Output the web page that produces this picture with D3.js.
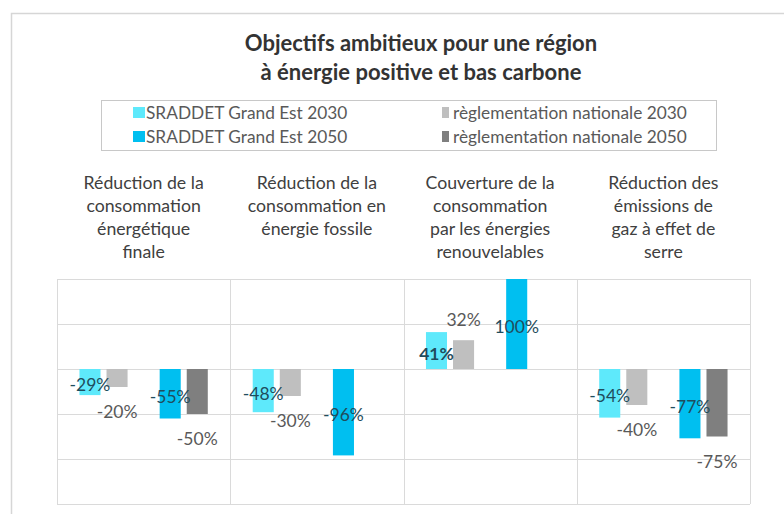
<!DOCTYPE html>
<html>
<head>
<meta charset="utf-8">
<script src="https://cdn.jsdelivr.net/npm/d3@7"></script>
<style>
  html, body { margin: 0; padding: 0; background: #ffffff; }
  svg { display: block; }
  text { font-family: Lato, 'Liberation Sans', sans-serif; }
</style>
</head>
<body>
<svg id="chart" width="784" height="514"></svg>
<script>
// ---------- data ----------
const titleLines = ["Objectifs ambitieux pour une région", "à énergie positive et bas carbone"];
const categories = ["conso_finale", "conso_fossile", "enr", "ges"];
const headerLines = [
  ["Réduction de la", "consommation", "énergétique", "finale"],
  ["Réduction de la", "consommation en", "énergie fossile"],
  ["Couverture de la", "consommation", "par les énergies", "renouvelables"],
  ["Réduction des", "émissions de", "gaz à effet de", "serre"]
];
const years = ["2030", "2050"];
const seriesKeys = ["sraddet", "national"];
const sraddet2030 = [-29, -48, 41, -54];
const national2030 = [-20, -30, 32, -40];
const sraddet2050 = [-55, -96, 100, -77];
const national2050 = [-50, null, null, -75];
const legendLabels = ["SRADDET Grand Est 2030", "SRADDET Grand Est 2050",
                      "règlementation nationale 2030", "règlementation nationale 2050"];
const gridTicks = [-150, -100, -50, 0, 50, 100];

// ---------- layout / styles ----------
const colors = {
  "sraddet2030": "#5ee9fb",
  "sraddet2050": "#00bff0",
  "national2030": "#bfbfbf",
  "national2050": "#7f7f7f"
};
const plot = { left: 57, right: 750, top: 279, bottom: 504 };

const svg = d3.select("#chart");

// outer frame
svg.append("rect")
  .attr("x", 11.5).attr("y", 13.5).attr("width", 800).attr("height", 520)
  .attr("fill", "none").attr("stroke", "#d6d6d6").attr("stroke-width", 1.5);

// title
svg.append("g").selectAll("text").data(titleLines).join("text")
  .attr("x", 421).attr("y", (d, i) => 51 + i * 29)
  .attr("text-anchor", "middle")
  .attr("font-size", 22).attr("font-weight", "bold").attr("fill", "#333333")
  .text(d => d);

// legend
const legend = svg.append("g");
legend.append("rect")
  .attr("x", 101.5).attr("y", 100.5).attr("width", 615).attr("height", 50)
  .attr("fill", "none").attr("stroke", "#c8c8c8");
const legendItems = [
  { key: "sraddet2030", label: legendLabels[0], col: 0, row: 0 },
  { key: "sraddet2050", label: legendLabels[1], col: 0, row: 1 },
  { key: "national2030", label: legendLabels[2], col: 1, row: 0 },
  { key: "national2050", label: legendLabels[3], col: 1, row: 1 }
];
const legendColX = [133, 442];
const legendSwatchW = [12, 7];
const legendTextX = [146, 453];
const legendRowY = [112.5, 136.5];
const lg = legend.selectAll("g.item").data(legendItems).join("g").attr("class", "item");
lg.append("rect")
  .attr("x", d => legendColX[d.col]).attr("y", d => legendRowY[d.row] - 5.5)
  .attr("width", d => legendSwatchW[d.col]).attr("height", 11)
  .attr("fill", d => colors[d.key]);
lg.append("text")
  .attr("x", d => legendTextX[d.col])
  .attr("y", d => legendRowY[d.row] + 6)
  .attr("font-size", 17.3).attr("fill", "#595959")
  .text(d => d.label);

// scales
const x = d3.scaleBand().domain(categories).range([plot.left, plot.right]).padding(0);
const xYear = d3.scaleBand().domain(years).range([0, x.bandwidth()]).paddingInner(0).paddingOuter(0.08);
const xSeries = d3.scaleBand().domain(seriesKeys).range([0, xYear.bandwidth()]).paddingInner(0.222).paddingOuter(0.593);
const y = d3.scaleLinear().domain([-150, 100]).range([plot.bottom, plot.top]);

// headers
const headers = svg.append("g");
headers.selectAll("g").data(categories).join("g")
  .each(function (c, i) {
    d3.select(this).selectAll("text").data(headerLines[i]).join("text")
      .attr("x", x(c) + x.bandwidth() / 2)
      .attr("y", (d, j) => 189 + j * 23)
      .attr("text-anchor", "middle")
      .attr("font-size", 17.7).attr("fill", "#404040")
      .text(d => d);
  });

// gridlines
const grid = svg.append("g");
grid.selectAll("line.h").data(gridTicks).join("line").attr("class", "h")
  .attr("x1", plot.left).attr("x2", plot.right)
  .attr("y1", d => Math.round(y(d)) + 0.5).attr("y2", d => Math.round(y(d)) + 0.5)
  .attr("stroke", "#dadada").attr("stroke-width", 1);
const dividers = categories.map(c => x(c)).concat([plot.right]);
grid.selectAll("line.v").data(dividers).join("line").attr("class", "v")
  .attr("x1", d => Math.round(d) + 0.5).attr("x2", d => Math.round(d) + 0.5)
  .attr("y1", plot.top).attr("y2", plot.bottom)
  .attr("stroke", "#dadada").attr("stroke-width", 1);

// bars
const seriesData = { sraddet2030, national2030, sraddet2050, national2050 };
const bars = [];
categories.forEach((c, i) => {
  years.forEach(yr => {
    seriesKeys.forEach(s => {
      const key = s + yr;
      const v = seriesData[key][i];
      if (v === null || v === undefined) return;
      bars.push({ cat: c, year: yr, series: s, key, value: v, idx: i });
    });
  });
});
const bx = d => x(d.cat) + xYear(d.year) + xSeries(d.series);
svg.append("g").selectAll("rect").data(bars).join("rect")
  .attr("x", bx)
  .attr("y", d => Math.min(y(d.value), y(0)))
  .attr("width", xSeries.bandwidth())
  .attr("height", d => Math.abs(y(d.value) - y(0)))
  .attr("fill", d => colors[d.key]);

// data labels
const fmtPct = v => (v < 0 ? "-" : "") + Math.abs(v) + "%";
svg.append("g").selectAll("text").data(bars).join("text")
  .attr("x", d => bx(d) + xSeries.bandwidth() / 2)
  .attr("y", d => {
    if (d.series === "sraddet") return (y(d.value) + y(0)) / 2 + 3;
    return d.value < 0 ? y(d.value) + 25 : y(d.value) - 20;
  })
  .attr("dy", "0.35em")
  .attr("text-anchor", "middle")
  .attr("font-size", 17.5)
  .attr("font-weight", d => (d.series === "sraddet" && d.value > 0 && d.year === "2030") ? "bold" : "normal")
  .attr("fill", d => d.series === "sraddet" ? "#1f4d5d" : "#595959")
  .text(d => fmtPct(d.value));
</script>
</body>
</html>
